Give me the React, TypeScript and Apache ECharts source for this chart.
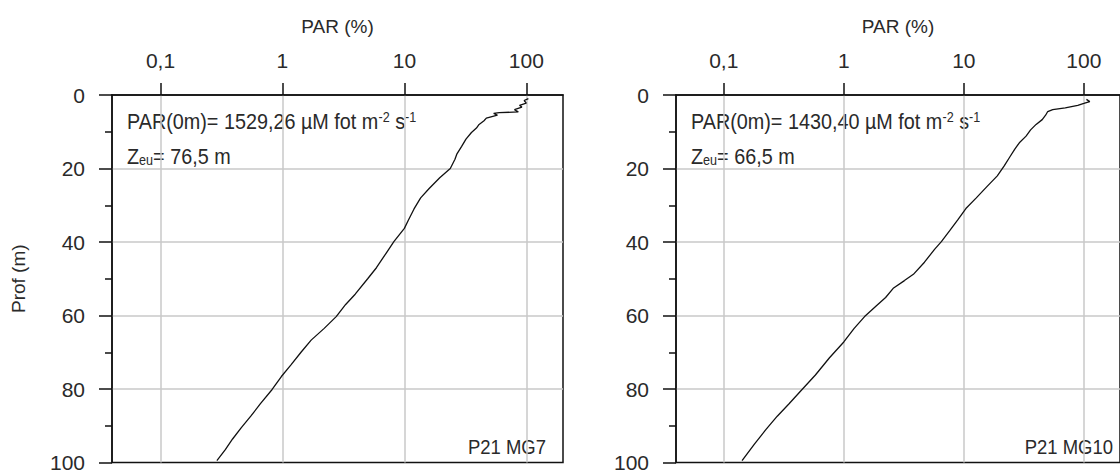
import React, { useEffect, useRef } from "react";
import * as echarts from "echarts";

// Tick values and labels of the top (log) axis
const xTickValues = [0.1, 1, 10, 100];
const xTickLabels = ["0,1", "1", "10", "100"];

// Station P21 MG7: depth (m) and PAR (%)
const mg7Depth = [1.0, 1.5, 2.2, 2.8, 3.3, 4.0, 4.6, 4.8, 5.0, 5.5, 6.3, 7.0, 8.0, 9.0, 10.2, 12, 14, 16, 17.5, 20, 22.5, 25.5, 28, 31, 34, 36.3, 39.9, 43, 47, 50, 54.2, 57, 60.3, 63.5, 66.7, 70, 73.5, 76.6, 80.2, 84, 87.4, 90.5, 93.6, 96.5, 99.5];
const mg7Par = [104, 96, 100, 88, 92, 80, 86, 60, 54, 58, 47, 45, 41, 39, 35.5, 32, 29.5, 27, 26, 23.8, 19.5, 15.9, 13.6, 12, 10.8, 10, 8.2, 7.1, 5.9, 5.0, 3.95, 3.3, 2.76, 2.2, 1.72, 1.42, 1.17, 0.98, 0.82, 0.66, 0.55, 0.46, 0.39, 0.34, 0.29];

// Station P21 MG10: depth (m) and PAR (%)
const mg10Depth = [1.2, 1.8, 2.3, 2.8, 3.5, 4.0, 4.5, 5.5, 6.7, 8, 9.5, 11.2, 13, 14.8, 17, 19.3, 22, 25, 28, 30.9, 34, 37, 39.9, 42, 45.5, 48.8, 50.5, 52.5, 55.1, 57.5, 60.3, 63.5, 67.2, 71.5, 76.2, 80.2, 84, 87.4, 91, 95, 99.5];
const mg10Par = [105, 112, 100, 89, 70, 55, 50, 48, 45, 40, 36, 33, 29, 26.5, 24, 21.7, 19, 15.5, 12.7, 10.4, 8.9, 7.6, 6.5, 5.7, 4.7, 3.8, 3.2, 2.6, 2.23, 1.85, 1.49, 1.22, 1.0, 0.76, 0.58, 0.447, 0.35, 0.279, 0.225, 0.18, 0.142];

const FONT = "'Liberation Sans', Arial, sans-serif";
const INK = "#111";
const TXT = "#2a2a2a";
const GRIDC = "#c8c8c8";

function xLabel(v: number): string {
  let best = 0;
  for (let i = 1; i < xTickValues.length; i++) {
    if (Math.abs(Math.log10(v) - Math.log10(xTickValues[i])) < Math.abs(Math.log10(v) - Math.log10(xTickValues[best]))) best = i;
  }
  return xTickLabels[best];
}

function makeX(gridIndex: number) {
  return {
    type: "log",
    logBase: 10,
    gridIndex,
    position: "top",
    min: 0.04,
    max: 200,
    name: "PAR (%)",
    nameLocation: "middle",
    nameGap: 59,
    nameTextStyle: { fontFamily: FONT, fontSize: 19, color: TXT },
    axisLine: { show: true, lineStyle: { color: INK, width: 1.5 } },
    axisTick: { show: true, customValues: xTickValues, length: 12, inside: false, lineStyle: { color: INK, width: 1.5 } },
    axisLabel: { customValues: xTickValues, formatter: (v: number) => xLabel(v), margin: 24, fontFamily: FONT, fontSize: 21, color: TXT },
    splitLine: { show: true, lineStyle: { color: GRIDC, width: 1.5 } },
    minorTick: { show: false },
    minorSplitLine: { show: false },
  };
}

function makeY(gridIndex: number, withName: boolean) {
  return {
    type: "value",
    gridIndex,
    inverse: true,
    min: 0,
    max: 100,
    interval: 20,
    name: withName ? "Prof (m)" : "",
    nameLocation: "middle",
    nameRotate: 90,
    nameGap: 84,
    nameTextStyle: { fontFamily: FONT, fontSize: 19, color: TXT },
    axisLine: { show: true, lineStyle: { color: INK, width: 1.5 } },
    axisTick: { show: true, length: 13, inside: false, lineStyle: { color: INK, width: 1.5 } },
    minorTick: { show: true, splitNumber: 2, length: 7, lineStyle: { color: INK, width: 1.5 } },
    axisLabel: { margin: 27, fontFamily: FONT, fontSize: 21, color: TXT },
    splitLine: { show: true, showMinLine: false, showMaxLine: false, lineStyle: { color: GRIDC, width: 1.5 } },
  };
}

function annotation(x: number, par0: string, zeu: string) {
  return [
    {
      type: "text",
      x,
      y: 110,
      scaleX: 0.9,
      style: {
        text: `{a|PAR(0m)= ${par0} \u00b5M fot m}{s|-2}{a| s}{s|-1}`,
        rich: {
          a: { fontFamily: FONT, fontSize: 22, fill: TXT },
          s: { fontFamily: FONT, fontSize: 14, fill: TXT, verticalAlign: "top" },
        },
      },
    },
    {
      type: "text",
      x,
      y: 145,
      scaleX: 0.9,
      style: {
        text: `{a|Z}{b|eu}{a|= ${zeu} m}`,
        rich: {
          a: { fontFamily: FONT, fontSize: 22, fill: TXT },
          b: { fontFamily: FONT, fontSize: 14, fill: TXT, verticalAlign: "bottom" },
        },
      },
    },
  ];
}

export default function App() {
  const ref = useRef<HTMLDivElement>(null);
  useEffect(() => {
    if (!ref.current) return;
    const chart = echarts.init(ref.current, undefined, { renderer: "svg" });
    const gridBase = { top: 95, height: 372, width: 451, show: true, borderColor: INK, borderWidth: 1.5, backgroundColor: "transparent" };
    chart.setOption({
      animation: false,
      backgroundColor: "#ffffff",
      grid: [
        { ...gridBase, left: 112 },
        { ...gridBase, left: 676 },
      ],
      xAxis: [makeX(0), makeX(1)],
      yAxis: [makeY(0, true), makeY(1, false)],
      series: [
        {
          type: "line",
          name: "P21 MG7",
          xAxisIndex: 0,
          yAxisIndex: 0,
          data: mg7Depth.map((d, i) => [mg7Par[i], d]),
          showSymbol: false,
          symbol: "none",
          lineStyle: { color: INK, width: 1.3 },
          z: 5,
        },
        {
          type: "line",
          name: "P21 MG10",
          xAxisIndex: 1,
          yAxisIndex: 1,
          data: mg10Depth.map((d, i) => [mg10Par[i], d]),
          showSymbol: false,
          symbol: "none",
          lineStyle: { color: INK, width: 1.3 },
          z: 5,
        },
      ],
      graphic: [
        ...annotation(127, "1529,26", "76,5"),
        ...annotation(691, "1430,40", "66,5"),
        {
          type: "text",
          x: 546,
          y: 447,
          scaleX: 0.88,
          style: { text: "P21 MG7", fontFamily: FONT, fontSize: 21, fill: TXT, align: "right", verticalAlign: "middle" },
        },
        {
          type: "text",
          x: 1113,
          y: 447,
          scaleX: 0.88,
          style: { text: "P21 MG10", fontFamily: FONT, fontSize: 21, fill: TXT, align: "right", verticalAlign: "middle" },
        },
      ],
    });
    return () => chart.dispose();
  }, []);
  return <div ref={ref} style={{ position: "fixed", left: 0, top: 0, width: 1120, height: 473 }} />;
}
